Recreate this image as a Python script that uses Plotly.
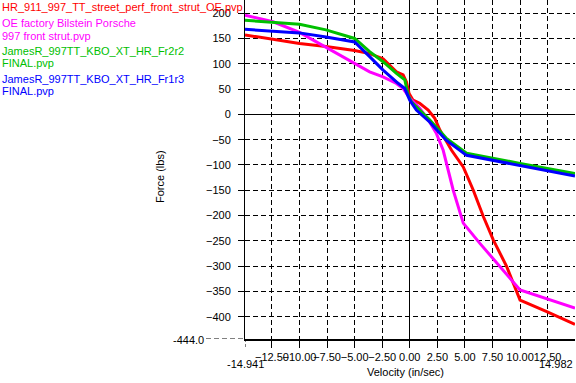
import plotly.graph_objects as go

# ---- data ----
names = [
    "HR_911_997_TT_street_perf_front_strut_OE.pvp",
    "OE factory Bilstein Porsche<br>997 front strut.pvp",
    "JamesR_997TT_KBO_XT_HR_Fr2r2<br>FINAL.pvp",
    "JamesR_997TT_KBO_XT_HR_Fr1r3<br>FINAL.pvp",
]
colors = ["#ff0000", "#ff00ff", "#00c000", "#0000ff"]

red_x = [-14.941, -12.4, -10, -7.6, -5, -3.64, -2.42, -1.21, -0.6, -0.3, -0.06, 0.3, 0.9, 1.67,
         2.27, 2.73, 3.79, 4.85, 5.76, 6.67, 7.57, 8.79, 10, 12.42, 14.982]
red_y = [157, 148, 140, 134, 126, 120, 110, 84, 78, 64, 41, 28, 22, 8.5,
         -8, -31, -71, -104, -150, -202, -248, -301, -367, -390, -415]

mag_x = [-14.941, -12.4, -10, -8, -5, -3.64, -2.42, -1.21, -0.6, 0, 0.9, 1.8, 2.42, 3.03,
         3.94, 4.85, 6.36, 8.18, 10, 14.982]
mag_y = [196, 183, 162, 138, 101, 84, 74, 61, 51, 32, 12, -15, -38, -71,
         -150, -215, -255, -301, -347, -383]

grn_x = [-14.941, -12.4, -10, -7.6, -5, -3.64, -2.42, -1.21, -0.45, -0.15, 0.15, 0.9, 1.8,
         3.3, 5.15, 10, 14.982]
grn_y = [186, 182, 178, 167, 150, 124, 104, 81, 68, 38, 25, 8.5, -11,
         -47, -77, -97, -117]

blu_x = [-14.941, -12.4, -10, -7.6, -5, -3.64, -2.42, -1.21, -0.45, 0, 0.6, 1.8, 3.3, 5.15,
         10, 14.982]
blu_y = [168, 165, 161, 153, 143, 114, 87.5, 64, 51, 28, 8.5, -15, -51, -81,
         -101, -122]

x_min, x_max = -14.941, 14.982
y_min, y_max = -444.0, 226.0

series = [(red_x, red_y), (mag_x, mag_y), (grn_x, grn_y), (blu_x, blu_y)]

FONT = "Liberation Sans, Arial, sans-serif"
W, H = 576, 383
L, R, T, B = 245, 1, 0, 44
PW, PH = W - L - R, H - T - B


def px2paper_x(px):
    return (px - L) / PW


def px2paper_y(py):
    return 1 - (py - T) / PH


fig = go.Figure()
for (xs, ys), name, c in zip(series, names, colors):
    fig.add_trace(go.Scatter(x=xs, y=ys, mode="lines", name=name,
                             line=dict(color=c, width=3), showlegend=False))

annotations = []
# legend-like coloured text at top-left
line_y = [[6.7], [22.5, 35.5], [50, 62.3], [78, 90.3]]
for name, c, ys in zip(names, colors, line_y):
    for txt, py in zip(name.split("<br>"), ys):
        annotations.append(dict(text=txt, xref="paper", yref="paper",
                                x=px2paper_x(0), y=px2paper_y(py + 0.5),
                                xanchor="left", yanchor="middle", showarrow=False,
                                font=dict(color=c, size=11, family=FONT)))

annotations += [
    dict(text="-444.0", xref="paper", yref="paper", x=px2paper_x(206), y=px2paper_y(340),
         xanchor="right", yanchor="middle", showarrow=False),
    dict(text="%.3f" % x_min, xref="x", yref="paper", x=x_min, y=px2paper_y(364),
         xanchor="center", yanchor="middle", showarrow=False),
    dict(text="%.3f" % x_max, xref="x", yref="paper", x=x_max, y=px2paper_y(364),
         xanchor="right", yanchor="middle", showarrow=False),
    dict(text="Velocity (in/sec)", xref="paper", yref="paper", x=px2paper_x(405),
         y=px2paper_y(372), xanchor="center", yanchor="middle", showarrow=False),
    dict(text="Force (lbs)", xref="paper", yref="paper", x=px2paper_x(160),
         y=px2paper_y(177), xanchor="center", yanchor="middle", showarrow=False,
         textangle=-90),
]

shapes = [
    dict(type="line", xref="paper", yref="y", x0=px2paper_x(206), x1=0, y0=y_min, y1=y_min,
         line=dict(color="black", width=1, dash="5px,3px")),
    dict(type="line", xref="x", yref="paper", x0=x_min, x1=x_min, y0=0, y1=px2paper_y(348),
         line=dict(color="black", width=1, dash="3px,2px")),
]

fig.update_layout(
    width=W, height=H,
    margin=dict(l=L, r=R, t=T, b=B, pad=0, autoexpand=False),
    paper_bgcolor="white", plot_bgcolor="white",
    font=dict(family=FONT, size=11, color="black"),
    annotations=annotations, shapes=shapes,
    showlegend=False,
)
fig.update_xaxes(
    range=[x_min, x_max], tick0=0, dtick=2.5, tickformat=".2f", tickangle=0,
    automargin=False,
    showgrid=True, gridcolor="black", gridwidth=1, griddash="5px,3px",
    zeroline=True, zerolinecolor="black", zerolinewidth=1,
    showline=True, linecolor="black", linewidth=2,
    ticks="outside", ticklen=7, tickcolor="black", tickwidth=1,
    ticklabelstandoff=0,
)
fig.update_yaxes(
    range=[y_min, y_max], tick0=0, dtick=50, tickformat="d",
    automargin=False,
    showgrid=True, gridcolor="black", gridwidth=1, griddash="5px,3px",
    zeroline=True, zerolinecolor="black", zerolinewidth=1,
    showline=True, linecolor="black", linewidth=1,
    ticks="outside", ticklen=6, tickcolor="black", tickwidth=1,
    ticklabelstandoff=5,
)

fig.write_html("out.html", config={"displayModeBar": False},
               post_script="document.body.style.margin='0';document.body.style.overflow='hidden';")
